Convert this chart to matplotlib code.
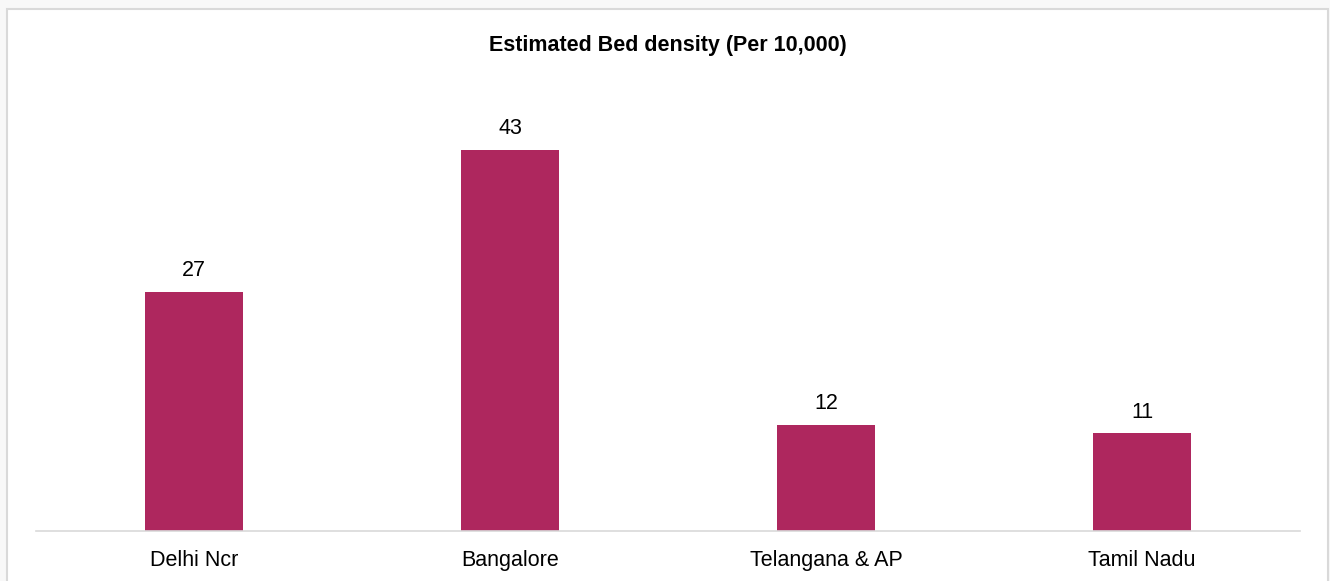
import matplotlib
matplotlib.use("Agg")
import matplotlib.pyplot as plt
from matplotlib.patches import Rectangle

categories = ["Delhi Ncr", "Bangalore", "Telangana & AP", "Tamil Nadu"]
values = [27, 43, 12, 11]
title = "Estimated Bed density (Per 10,000)"

plt.rcParams['font.family'] = ['Liberation Sans', 'DejaVu Sans']

W, H = 1330, 581
fig = plt.figure(figsize=(W / 100, H / 100), dpi=100)
fig.patch.set_facecolor('#f8f8f8')

# white panel with light border
panel = Rectangle((7 / W, -0.05), (1328 - 7) / W, 1.05 - 9 / H,
                  transform=fig.transFigure, facecolor='white',
                  edgecolor='#d9d9d9', linewidth=1.5, zorder=-10)
fig.patches.append(panel)

ax_left, ax_right = 36, 1300
ax_bottom, ax_top = 531, 80
ax = fig.add_axes([ax_left / W, (H - ax_bottom) / H,
                   (ax_right - ax_left) / W, (ax_bottom - ax_top) / H])
ax.set_facecolor('none')
ax.set_zorder(5)

x = range(len(categories))
bars = ax.bar(x, values, width=0.313, color='#ae275e', zorder=2)
for xi, v in zip(x, values):
    ax.annotate(f"{v}", (xi, v), xytext=(0, 11), textcoords='offset points',
                ha='center', va='baseline', fontsize=15.5, color='#000000')

ax.set_xlim(-0.5, 3.5)
ax.set_ylim(0, (ax_bottom - ax_top) / 8.87)
ax.set_xticks(list(x))
ax.set_xticklabels(categories, fontsize=15.5, color='#000000')
ax.tick_params(axis='x', length=0, pad=13.5)
ax.set_yticks([])
for s in ['top', 'right', 'left']:
    ax.spines[s].set_visible(False)
ax.spines['bottom'].set_color('#d9d9d9')
ax.spines['bottom'].set_linewidth(1.2)

fig.text(667.5 / W, (H - 50.5) / H, title, ha='center', va='baseline',
         fontsize=15.5, fontweight='bold', color='#000000', zorder=6)

fig.savefig("out.png", dpi=100, facecolor=fig.get_facecolor())
